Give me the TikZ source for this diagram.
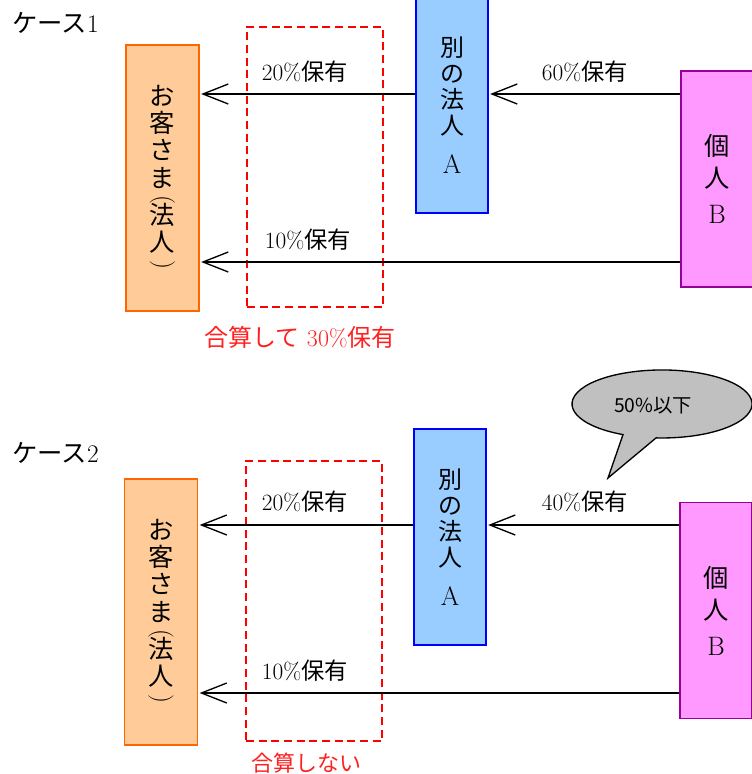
\documentclass[tikz,border=0pt]{standalone}
\usepackage{fontspec}
\newfontfamily\jp{Noto Sans CJK JP}
\usetikzlibrary{arrows.meta}
\definecolor{custfill}{HTML}{FFCC99}
\definecolor{custline}{HTML}{FF6600}
\definecolor{afill}{HTML}{99CCFF}
\definecolor{aline}{HTML}{0000FF}
\definecolor{bfill}{HTML}{FF99FF}
\definecolor{bline}{HTML}{990099}
\definecolor{bubblegray}{HTML}{C0C0C0}
\definecolor{redtext}{HTML}{FF2020}
\newcommand\myvlp{\rotatebox[origin=c]{-90}{\rmfamily(}}
\newcommand\myvrp{\rotatebox[origin=c]{-90}{\rmfamily)}}
\begin{document}
\begin{tikzpicture}[x=0.75pt,y=-0.75pt,
  box/.style={draw, line width=1.2pt, inner sep=0pt, align=center},
  custbox/.style={box, fill=custfill, draw=custline, minimum width=54.75pt, minimum height=199.5pt, font=\jp\fontsize{19}{20.5}\selectfont},
  abox/.style={box, fill=afill, draw=aline, minimum width=54pt, minimum height=162pt, font=\jp\fontsize{18}{19.5}\selectfont},
  bbox/.style={box, fill=bfill, draw=bline, minimum width=54pt, minimum height=162pt, font=\jp\fontsize{19}{24}\selectfont},
  dashbox/.style={draw=red, dash pattern=on 6pt off 3.5pt, line width=1.2pt, minimum width=102pt, minimum height=210pt, inner sep=0pt},
  lbl/.style={font=\fontsize{17.5}{19}\selectfont, inner sep=0pt},
  redlbl/.style={font=\fontsize{18}{20}\selectfont, inner sep=0pt, text=redtext},
  title/.style={font=\fontsize{19}{21}\selectfont, inner sep=0pt, anchor=west},
  arr/.style={line width=1pt, shorten >=1pt, -{Straight Barb[length=19pt,width=15pt,line width=1pt]}}
]
\useasboundingbox (0,0) rectangle (752,774);
\clip (0,0) rectangle (752,774);

% ---------------- Case 1 ----------------
\node[title] (t1) at (12,23) {{\jp ケース}1};
\node[dashbox] (d1) at (315,167) {};
\node[custbox] (c1) at (162.5,178) {お\\客\\さ\\ま\\[-6pt]\myvlp\\[-7pt]法\\人\\[-6pt]\myvrp};
\node[abox] (a1) at (452,105) {別\\の\\法\\人\\[10pt]{\rmfamily\fontsize{20}{20}\selectfont A}};
\node[bbox] (b1) at (717,179) {個\\人\\[3pt]{\rmfamily\fontsize{20}{20}\selectfont B}};

\draw[arr] (a1.west |- 0,94) -- (c1.east |- 0,94);
\draw[arr] (b1.west |- 0,94) -- (a1.east |- 0,94);
\draw[arr] (b1.west |- 0,262) -- (c1.east |- 0,262);

\node[lbl] (l1) at (305,72) {20\%{\jp 保有}};
\node[lbl] (l2) at (585,72) {60\%{\jp 保有}};
\node[lbl] (l3) at (308,240) {10\%{\jp 保有}};
\node[redlbl] (r1) at (300,337) {{\jp 合算して} 30\%{\jp 保有}};

% ---------------- Case 2 ----------------
\node[title] (t2) at (12,453) {{\jp ケース}2};
\node[dashbox] (d2) at (314,601) {};
\node[custbox] (c2) at (161,612) {お\\客\\さ\\ま\\[-6pt]\myvlp\\[-7pt]法\\人\\[-6pt]\myvrp};
\node[abox] (a2) at (450,537) {別\\の\\法\\人\\[10pt]{\rmfamily\fontsize{20}{20}\selectfont A}};
\node[bbox] (b2) at (716,610.5) {個\\人\\[3pt]{\rmfamily\fontsize{20}{20}\selectfont B}};

\draw[arr] (a2.west |- 0,525) -- (c2.east |- 0,525);
\draw[arr] (b2.west |- 0,525) -- (a2.east |- 0,525);
\draw[arr] (b2.west |- 0,693) -- (c2.east |- 0,693);

\node[lbl] (l4) at (305,502) {20\%{\jp 保有}};
\node[lbl] (l5) at (585,502) {40\%{\jp 保有}};
\node[lbl] (l6) at (305,671) {10\%{\jp 保有}};
\node[redlbl, font=\fontsize{16.5}{18}\selectfont] (r2) at (306,763) {\jp 合算しない};

% speech bubble
\filldraw[fill=bubblegray, draw=black, line width=1pt]
  (608,478) -- (623,434.6) arc[start angle=244.3, end angle=-93.8, x radius=67.5pt, y radius=25.5pt] -- cycle;
\node[font=\jp\fontsize{14.5}{16}\selectfont, inner sep=0pt] (bub) at (653,406) {50\%以下};
\end{tikzpicture}
\end{document}
